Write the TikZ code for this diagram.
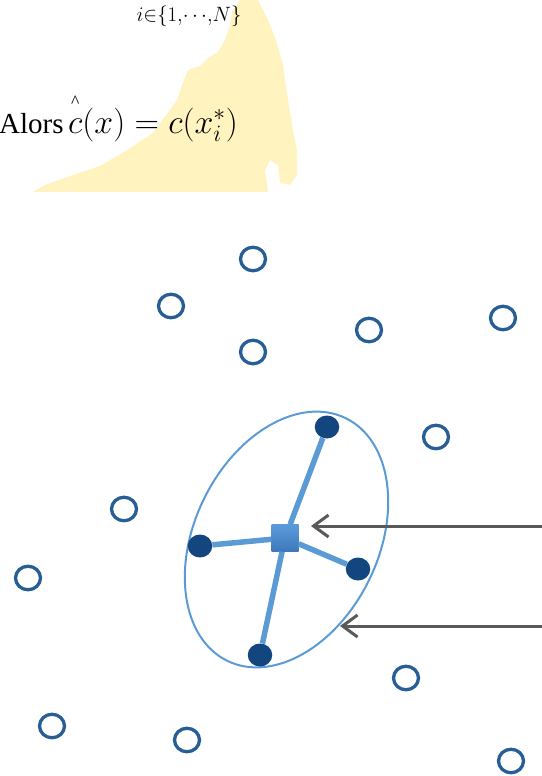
\documentclass[tikz,border=0pt]{standalone}
\usepackage{graphicx}
\usepackage{amsmath}
\usepackage{fontspec}
\setmainfont{Liberation Serif}
\usetikzlibrary{arrows.meta,shapes.geometric}
\definecolor{mapyellow}{HTML}{FFF3C0}
\definecolor{ringblue}{HTML}{285E96}
\definecolor{dotblue}{HTML}{13467F}
\definecolor{lightblue}{HTML}{5B9BD5}
\definecolor{sqtop}{HTML}{5C9BDA}
\definecolor{sqbot}{HTML}{3D78BB}
\definecolor{arrgray}{HTML}{595959}
\tikzset{
  ring/.style={ellipse, draw=ringblue, line width=3.3pt, minimum width=25pt, minimum height=23.5pt, inner sep=0pt},
  fdot/.style={ellipse, fill=dotblue, minimum width=24.5pt, minimum height=23pt, inner sep=0pt},
  sqbox/.style={rectangle, top color=sqtop, bottom color=sqbot, minimum size=27pt, inner sep=0pt},
  spoke/.style={draw=lightblue, line width=5.5pt},
  arr/.style={draw=arrgray, line width=3pt, -{Straight Barb[length=15pt, width=22pt]}},
}
\begin{document}
\begin{tikzpicture}[x=1pt,y=-1pt]
\useasboundingbox (0,0) rectangle (541,776);
% yellow map shape
\fill[mapyellow] (240,0) -- (258,0) -- (268,20) -- (276,40) -- (283,65) -- (288,100) -- (293,130) -- (297,150) -- (297,175) -- (290,185) -- (280,183) -- (278,165) -- (270,160) -- (265,170) -- (268,192) -- (33,192) -- (45,185) -- (70,176) -- (100,166) -- (127,150) -- (153,133) -- (177,100) -- (182,85) -- (188,70) -- (200,66) -- (208,58) -- (218,52) -- (225,40) -- (230,25) -- (232,12) -- cycle;
% texts
\node[anchor=center, inner sep=0pt, font=\fontsize{20.74}{22}\selectfont] (sub) at (189,16) {$i{\in}\{1{,}{\cdots}{,}N\}$};
\node[anchor=base west, inner sep=0pt, font=\fontsize{29}{32}\selectfont] (alors) at (-1,133) {Alors};
\node[anchor=base west, inner sep=0pt, font=\fontsize{24}{26}\selectfont] (eq) at (68,133) {\scalebox{1.36}{$\overset{\raisebox{3pt}{\fontsize{13}{13}\selectfont\textasciicircum}}{c}(x) = c(x_i^*)$}};
% ellipse
\draw[lightblue, line width=2pt, rotate around={-26:(286.5,539.5)}] (286.5,539.5) ellipse [x radius=92, y radius=135];
% centre and neighbours
\node[sqbox] (sq) at (285,538) {};
\node[fdot] (d1) at (327,427) {};
\node[fdot] (d2) at (200,546) {};
\node[fdot] (d3) at (358,569) {};
\node[fdot] (d4) at (260,655) {};
\draw[spoke] (sq) -- (d1);
\draw[spoke] (sq) -- (d2);
\draw[spoke] (sq) -- (d3);
\draw[spoke] (sq) -- (d4);
% open circles
\node[ring] (o1) at (253,259) {};
\node[ring] (o2) at (171,306) {};
\node[ring] (o3) at (253,352) {};
\node[ring] (o4) at (369,330) {};
\node[ring] (o5) at (503,318) {};
\node[ring] (o6) at (436,437) {};
\node[ring] (o7) at (124,509) {};
\node[ring] (o8) at (28,578) {};
\node[ring] (o9) at (406,678) {};
\node[ring] (o10) at (52,726) {};
\node[ring] (o11) at (187,740) {};
\node[ring] (o12) at (511,761) {};
% arrows
\coordinate (a1s) at (545,526);
\coordinate (a1e) at (311,526);
\coordinate (a2s) at (545,626);
\coordinate (a2e) at (340,626);
\draw[arr] (a1s) -- (a1e);
\draw[arr] (a2s) -- (a2e);
\end{tikzpicture}
\end{document}
